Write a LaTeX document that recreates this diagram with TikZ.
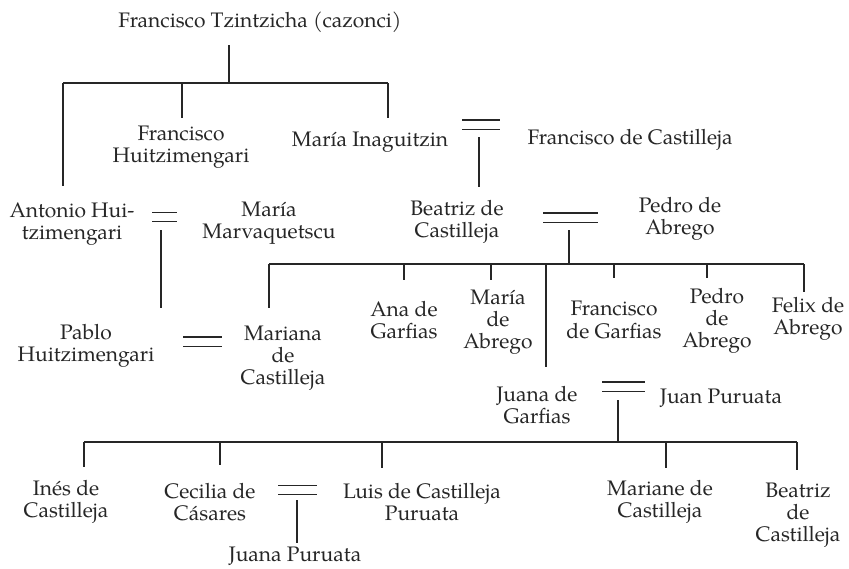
\documentclass[tikz,border=0pt]{standalone}
\usepackage{fontspec}
\setmainfont{texgyrepagella-regular.otf}

\tikzset{
  person/.style={align=center, inner sep=0pt, font=\fontsize{10.5}{11.1}\selectfont},
  wed/.style={double, double distance=4pt},
}

\begin{document}
\begin{tikzpicture}[x=0.5pt, y=-0.5pt, line width=0.6pt, color=black!85]
        \useasboundingbox (0,0) rectangle (849,568) ;
        % first generation
        \node[person] (cazonci) at (260,22) {Francisco Tzintzicha (cazonci)} ;
        \node[person] (fhuitz) at (181,147) {Francisco\\Huitzimengari} ;
        \node[person] (minag) at (370,142) {María Inaguitzin} ;
        \node[person] (fcast) at (630,140) {Francisco de Castilleja} ;
        \draw (229,45) -- (229,83) ;
        \draw (63,83) -- (388,83) ;
        \foreach \x/\y in {63/186,182/118,388/118}
          \draw (\x,83) -- (\x,\y) ;
        \draw[wed] (462,124.5) -- (500,124.5) ;
        \draw (479,137) -- (479,187) ;
        % second generation
        \node[person] (antonio) at (72,224) {Antonio Hui-\\tzimengari} ;
        \node[person] (marvaq) at (269,223) {María\\Marvaquetscu} ;
        \node[person] (beatriz) at (457,222) {Beatriz de\\Castilleja} ;
        \node[person] (pabrego) at (680,219) {Pedro de\\Abrego} ;
        \draw[wed] (152,217) -- (177,217) ;
        \draw (161,230) -- (161,308) ;
        \draw[wed] (543,217.5) -- (598,217.5) ;
        \draw (569,230) -- (569,264) ;
        \draw (269,264) -- (804,264) ;
        \foreach \x/\y in {269/308,404/280,491/280,546/367,614/278,707/278,804/292}
          \draw (\x,264) -- (\x,\y) ;
        % third generation
        \node[person] (pablo) at (86,346) {Pablo\\Huitzimengari} ;
        \node[person] (mariana) at (283,358) {Mariana\\de\\Castilleja} ;
        \node[person] (ana) at (404,320) {Ana de\\Garfias} ;
        \node[person] (maria) at (498,322) {María\\de\\Abrego} ;
        \node[person] (fgarfias) at (614,320) {Francisco\\de Garfias} ;
        \node[person] (pedro) at (717,321) {Pedro\\de\\Abrego} ;
        \node[person] (felix) at (808,319) {Felix de\\Abrego} ;
        \node[person] (juana) at (537,405) {Juana de\\Garfias} ;
        \node[person] (jpuruata) at (721,398) {Juan Puruata} ;
        \draw[wed] (183,341.5) -- (222,341.5) ;
        \draw[wed] (602,386.5) -- (645,386.5) ;
        \draw (618,400) -- (618,442) ;
        \draw (84,442) -- (797,442) ;
        \foreach \x/\y in {84/467,220/465,382/468,666/468,797/470}
          \draw (\x,442) -- (\x,\y) ;
        % fourth generation
        \node[person] (ines) at (66,502) {Inés de\\Castilleja} ;
        \node[person] (cecilia) at (210,502) {Cecilia de\\Cásares} ;
        \node[person] (luis) at (422,502) {Luis de Castilleja\\Puruata} ;
        \node[person] (mariane) at (660,502) {Mariane de\\Castilleja} ;
        \node[person] (beatriz2) at (798,515) {Beatriz\\de\\Castilleja} ;
        \draw[wed] (278,490) -- (317,490) ;
        \draw (297,500) -- (297,543) ;
        \node[person] (jpur2) at (295,556) {Juana Puruata} ;
      \end{tikzpicture}
\end{document}
